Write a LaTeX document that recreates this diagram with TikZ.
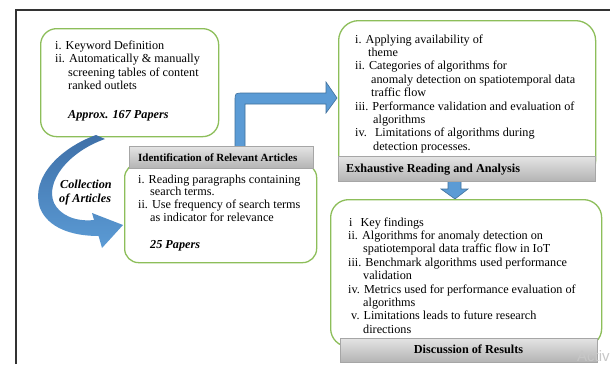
\documentclass[tikz,border=0pt]{standalone}
\usepackage{fontspec}
\setmainfont{Liberation Serif}
\newfontfamily\wmfont{Liberation Sans}
\definecolor{boxgreen}{HTML}{8DBE5A}
\definecolor{arrowblue}{HTML}{5B9BD5}
\definecolor{arrowedge}{HTML}{41719C}
\definecolor{curvetop}{HTML}{3F70A8}
\definecolor{hdrtop}{HTML}{E4E4E4}
\definecolor{hdrbot}{HTML}{B4B4B4}
\tikzset{
  greenbox/.style={draw=boxgreen, line width=1.3pt, fill=white, anchor=north west, inner sep=0},
  hdr/.style={draw=black!35, line width=0.4pt, top color=hdrtop, bottom color=hdrbot, anchor=north west, inner sep=0},
  txt/.style={inner sep=0, anchor=base west, font=\fontsize{12.2}{13.4}\selectfont},
  hdrtxt/.style={inner sep=0, anchor=base west, font=\fontsize{12.2}{13.4}\selectfont\bfseries},
  bi/.style={inner sep=0, anchor=base west, font=\fontsize{12.2}{13.4}\selectfont\bfseries\itshape},
  blockarrow/.style={fill=arrowblue, draw=arrowedge, line width=0.6pt},
}
\begin{document}
\begin{tikzpicture}[x=1pt,y=-1pt]
\useasboundingbox (0,0) rectangle (610,364);
\fill[white] (0,0) rectangle (610,364);
% frame
\draw[line width=1.5pt, black!80] (16,364) -- (16,10) -- (610,10);

% box 1
\node[greenbox, rounded corners=16pt, minimum width=178pt, minimum height=108pt] (b1) at (40,28) {};
\node[txt] (b1a) at (55,49.5) {i. Keyword Definition};
\node[txt] (b1b) at (55,62.8) {ii. Automatically \& manually};
\node[txt] (b1c) at (68,76.1) {screening tables of content};
\node[txt] (b1d) at (68,89.4) {ranked outlets};
\node[bi]  (b1e) at (68,118) {Approx. 167 Papers};

% curved arrow
\path[shade, top color=curvetop, bottom color=arrowblue]
 (96,135) .. controls (60,148) and (30,178) .. (40,208)
 .. controls (48,228) and (72,236) .. (98.6,236)
 -- (102,248) -- (123,225) -- (92,213) -- (94,220)
 .. controls (75,222) and (60,215) .. (54,203)
 .. controls (45,182) and (68,152) .. (105,139) -- cycle;
\node[bi] (col1) at (60,188) {Collection};
\node[bi] (col2) at (59,202) {of Articles};

% L arrow
\filldraw[blockarrow]
 (235,152) -- (235,101) .. controls (235,93) .. (243,93) -- (326,93) -- (326,82)
 -- (337,98) -- (326,113) -- (326,104) -- (245,104) -- (245,152) -- cycle;

% box 2
\node[greenbox, rounded corners=14pt, minimum width=192pt, minimum height=99pt] (b2) at (124,163) {};
\node[hdr, minimum width=184pt, minimum height=22pt] (h2) at (129,146) {};
\node[hdrtxt, font=\fontsize{11}{13}\selectfont\bfseries] (h2t) at (138,161.5) {Identification of Relevant Articles};
\node[txt] (b2a) at (138,183) {i. Reading paragraphs containing};
\node[txt] (b2b) at (150,195.7) {search terms.};
\node[txt] (b2c) at (138,208.4) {ii. Use frequency of search terms};
\node[txt] (b2d) at (150,221.1) {as indicator for relevance};
\node[bi]  (b2e) at (150,248) {25 Papers};

% box 3
\node[greenbox, rounded corners=20pt, minimum width=257pt, minimum height=160pt] (b3) at (338,20) {};
\node[txt] (b3a) at (355,43) {i. Applying availability of};
\node[txt] (b3b) at (368,56.4) {theme};
\node[txt] (b3c) at (355,69.8) {ii. Categories of algorithms for};
\node[txt] (b3d) at (371,83.2) {anomaly detection on spatiotemporal data};
\node[txt] (b3e) at (371,96.6) {traffic flow};
\node[txt] (b3f) at (355,110) {iii. Performance validation and evaluation of};
\node[txt] (b3g) at (373,123.4) {algorithms};
\node[txt] (b3h) at (355,136.8) {iv.\hspace{4pt} Limitations of algorithms during};
\node[txt] (b3i) at (373,150.2) {detection processes.};

% down arrow
\filldraw[blockarrow]
 (448,180) -- (448,189) -- (441,189) -- (455,199) -- (468,189) -- (461,189) -- (461,180) -- cycle;
\node[hdr, minimum width=257pt, minimum height=25pt] (h3) at (338,156) {};
\node[hdrtxt] (h3t) at (346,172.5) {Exhaustive Reading and Analysis};

% box 4
\node[greenbox, rounded corners=18pt, minimum width=271pt, minimum height=147pt] (b4) at (330,199) {};
\node[txt] (b4a) at (349,226) {i\hspace{8pt}Key findings};
\node[txt] (b4b) at (348,239.4) {ii. Algorithms for anomaly detection on};
\node[txt] (b4c) at (363,252.8) {spatiotemporal data traffic flow in IoT};
\node[txt] (b4d) at (348,266.2) {iii. Benchmark algorithms used performance};
\node[txt] (b4e) at (363,279.6) {validation};
\node[txt] (b4f) at (348,293) {iv. Metrics used for performance evaluation of};
\node[txt] (b4g) at (363,306.4) {algorithms};
\node[txt] (b4h) at (351,319.8) {v. Limitations leads to future research};
\node[txt] (b4i) at (363,333.2) {directions};
\node[hdr, minimum width=257pt, minimum height=24pt] (h4) at (340,338) {};
\node[hdrtxt, anchor=base] (h4t) at (468.5,353.5) {Discussion of Results};

% watermark
\node[inner sep=0, anchor=base west, font=\wmfont\fontsize{15}{15}\selectfont, text=black!22] (wm) at (577,361) {Activ};
\end{tikzpicture}
\end{document}
